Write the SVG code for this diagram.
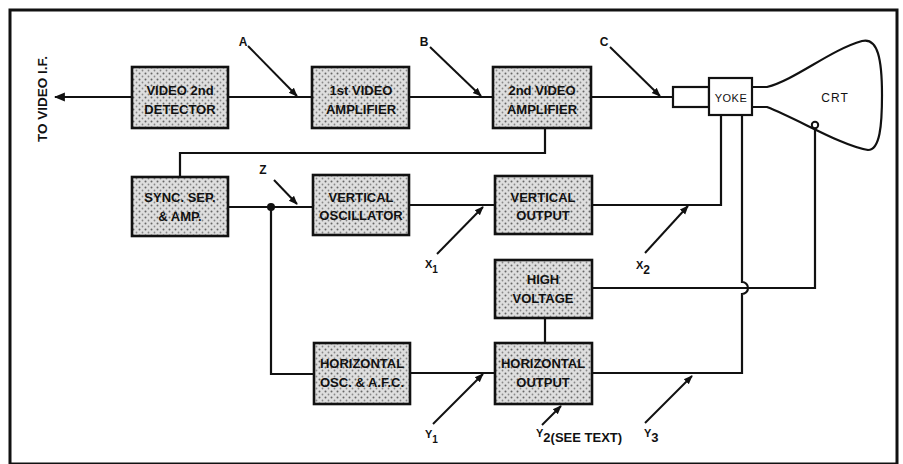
<svg xmlns="http://www.w3.org/2000/svg" width="903" height="464" viewBox="0 0 903 464">
<defs>
<pattern id="stip" width="6" height="6" patternUnits="userSpaceOnUse">
<rect width="6" height="6" fill="#dedede"/>
<circle cx="1.5" cy="1.5" r="1" fill="#666"/>
<circle cx="4.5" cy="4.5" r="0.9" fill="#888"/>
</pattern>
<marker id="ah" viewBox="0 0 10 10" refX="9" refY="5" markerWidth="9" markerHeight="9" markerUnits="userSpaceOnUse" orient="auto">
<path d="M0,1 L10,5 L0,9 Z" fill="#111"/>
</marker>
<marker id="bigah" viewBox="0 0 10 10" refX="9" refY="5" markerWidth="11" markerHeight="11" markerUnits="userSpaceOnUse" orient="auto">
<path d="M0,1 L10,5 L0,9 Z" fill="#111"/>
</marker>
</defs>
<style>
.box{fill:url(#stip);stroke:#111;stroke-width:2.6}
.bt{font-family:"Liberation Sans",Arial,sans-serif;font-weight:bold;font-size:13px;fill:#111;text-anchor:middle}
.ln{fill:none;stroke:#111;stroke-width:2.2}
.ptr{fill:none;stroke:#111;stroke-width:2;marker-end:url(#ah)}
.lbl{font-family:"Liberation Sans",Arial,sans-serif;font-weight:bold;font-size:12px;fill:#111;text-anchor:middle}
.sub{font-family:"Liberation Sans",Arial,sans-serif;font-weight:bold;font-size:11px;fill:#111}
.plain{font-family:"Liberation Sans",Arial,sans-serif;font-size:12px;fill:#111;text-anchor:middle;letter-spacing:1px}
</style>
<rect width="903" height="464" fill="#fff"/>
<rect x="10" y="10" width="887" height="454" fill="none" stroke="#111" stroke-width="3"/>

<g id="connectors">
<path class="ln" d="M132,97 H55" marker-end="url(#bigah)"/>
<path class="ln" d="M228,97 H312"/>
<path class="ln" d="M409,97 H493"/>
<path class="ln" d="M591,97 H673"/>
<path class="ln" d="M180,177 V153 H545 V128"/>
<path class="ln" d="M228,207 H313"/>
<path class="ln" d="M271,207 V374 H314"/>
<circle cx="271" cy="207" r="4" fill="#111"/>
<path class="ln" d="M409,205 H495"/>
<path class="ln" d="M592,205 H721 V115"/>
<path class="ln" d="M592,288 H815 V128"/>
<path class="ln" d="M545,318 V343"/>
<path class="ln" d="M410,373 H495"/>
<path class="ln" d="M592,373 H742 V294 A6,6 0 0 0 742,282 V115"/>
<path class="ptr" d="M248,46 L297,96"/>
<path class="ptr" d="M430,47 L481,96"/>
<path class="ptr" d="M610,47 L660,96"/>
<path class="ptr" d="M274,180 L297,204"/>
<path class="ptr" d="M437,254 L483,207"/>
<path class="ptr" d="M645,253 L688,206"/>
<path class="ptr" d="M433,424 L483,374"/>
<path class="ptr" d="M542,425 L561,406"/>
<path class="ptr" d="M645,423 L692,376"/>
</g>

<g id="labels">
<text class="lbl" transform="translate(47,99) rotate(-90)" style="font-size:13.5px">TO VIDEO I.F.</text>
<text class="lbl" x="243" y="46">A</text>
<text class="lbl" x="424" y="46">B</text>
<text class="lbl" x="604" y="46">C</text>
<text class="lbl" x="263" y="174">Z</text>
<text class="sub" x="425" y="268">X<tspan dy="5" font-size="10">1</tspan></text>
<text class="sub" x="636" y="269">X<tspan dy="5" font-size="12">2</tspan></text>
<text class="sub" x="425" y="438">Y<tspan dy="5" font-size="10">1</tspan></text>
<text class="sub" x="536" y="437">Y<tspan dy="5" font-size="13">2(SEE TEXT)</tspan></text>
<text class="sub" x="644" y="437">Y<tspan dy="5" font-size="13">3</tspan></text>
</g>

<g id="video-detector"><rect class="box" x="132" y="67" width="96" height="61"/><text class="bt" x="180" y="95">VIDEO 2nd</text><text class="bt" x="180" y="114">DETECTOR</text></g>
<g id="video-amp-1"><rect class="box" x="312" y="67" width="97" height="61"/><text class="bt" x="361" y="95">1st VIDEO</text><text class="bt" x="361" y="114">AMPLIFIER</text></g>
<g id="video-amp-2"><rect class="box" x="493" y="67" width="98" height="61"/><text class="bt" x="542" y="95">2nd VIDEO</text><text class="bt" x="542" y="114">AMPLIFIER</text></g>
<g id="sync-sep"><rect class="box" x="132" y="177" width="96" height="59"/><text class="bt" x="180" y="202">SYNC. SEP.</text><text class="bt" x="180" y="221">&amp; AMP.</text></g>
<g id="vert-osc"><rect class="box" x="313" y="175" width="96" height="60"/><text class="bt" x="361" y="202">VERTICAL</text><text class="bt" x="361" y="220">OSCILLATOR</text></g>
<g id="vert-out"><rect class="box" x="495" y="176" width="97" height="58"/><text class="bt" x="543" y="202">VERTICAL</text><text class="bt" x="543" y="220">OUTPUT</text></g>
<g id="high-voltage"><rect class="box" x="495" y="260" width="97" height="58"/><text class="bt" x="543" y="284">HIGH</text><text class="bt" x="543" y="303">VOLTAGE</text></g>
<g id="horiz-osc"><rect class="box" x="314" y="343" width="96" height="61"/><text class="bt" x="362" y="368">HORIZONTAL</text><text class="bt" x="362" y="387">OSC. &amp; A.F.C.</text></g>
<g id="horiz-out"><rect class="box" x="495" y="343" width="97" height="61"/><text class="bt" x="543" y="368">HORIZONTAL</text><text class="bt" x="543" y="387">OUTPUT</text></g>

<g id="crt">
<rect x="673" y="87" width="36" height="20" fill="#fff" stroke="#111" stroke-width="2.2"/>
<path class="ln" d="M752,87 L767,87 C795,80 830,50 862,41 C878,37 882,60 882,95 C882,125 880,150 868,150 C840,145 800,120 767,107 L752,107"/>
<circle cx="815" cy="125" r="3.2" fill="#fff" stroke="#111" stroke-width="2"/>
<text class="plain" x="835" y="102">CRT</text>
</g>
<g id="yoke">
<rect x="709" y="78" width="43" height="37" fill="#fff" stroke="#111" stroke-width="2.2"/>
<text class="plain" x="731" y="102" style="font-size:11px;letter-spacing:0.5px">YOKE</text>
</g>
</svg>
